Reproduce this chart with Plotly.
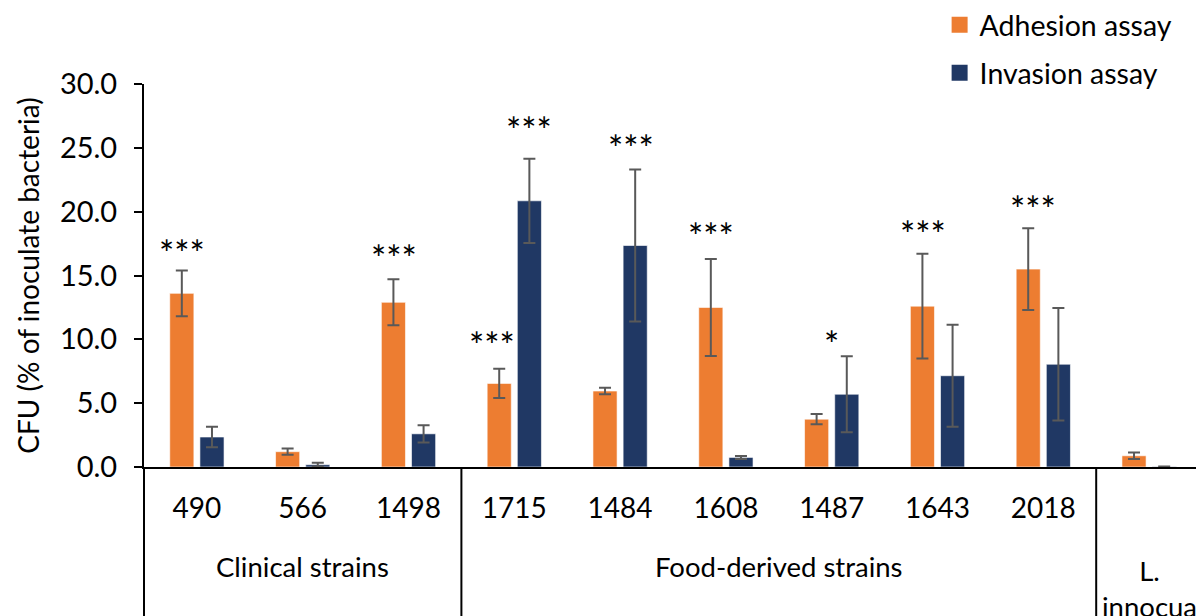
import plotly.graph_objects as go

categories = ["490", "566", "1498", "1715", "1484", "1608", "1487", "1643", "2018", "L. innocua"]
tick_labels = ["490", "566", "1498", "1715", "1484", "1608", "1487", "1643", "2018", ""]
groups = ["Clinical strains", "Food-derived strains", "L.<br>innocua"]
group_sizes = [3, 6, 1]

adhesion = [13.6, 1.2, 12.9, 6.55, 5.95, 12.5, 3.75, 12.6, 15.5, 0.88]
adhesion_err = [1.8, 0.25, 1.8, 1.15, 0.25, 3.8, 0.4, 4.1, 3.2, 0.25]
invasion = [2.35, 0.18, 2.6, 20.85, 17.35, 0.75, 5.7, 7.15, 8.05, 0.03]
invasion_err = [0.8, 0.15, 0.68, 3.3, 5.95, 0.12, 2.97, 4.0, 4.4, 0.0]

sig_cat = ["490", "1498", "1715", "1715", "1484", "1608", "1487", "1643", "2018"]
sig_series = ["adh", "adh", "adh", "inv", "inv", "adh", "mid", "adh", "adh"]
sig_text = ["***", "***", "***", "***", "***", "***", "*", "***", "***"]
sig_y = [17.4, 17.0, 10.2, 27.0, 25.6, 18.7, 10.3, 18.85, 20.85]

ORANGE = "#ED7D31"
BLUE = "#203864"
FONT = "Lato"

fig = go.Figure()
fig.add_trace(go.Bar(
    name="Adhesion assay", x=categories, y=adhesion, marker_color=ORANGE,
    marker_line=dict(color="rgba(255,255,255,0.6)", width=1),
    error_y=dict(type="data", array=adhesion_err, color="#595959", thickness=2, width=6),
    showlegend=False,
))
fig.add_trace(go.Bar(
    name="Invasion assay", x=categories, y=invasion, marker_color=BLUE,
    marker_line=dict(color="rgba(255,255,255,0.6)", width=1),
    error_y=dict(type="data", array=invasion_err, color="#595959", thickness=2, width=6),
    showlegend=False,
))
# legend entries (square swatches like the reference)
for nm, col, grp in [("Adhesion assay", ORANGE, "a"), ("Invasion assay", BLUE, "b")]:
    fig.add_trace(go.Scatter(
        name=nm, x=[None], y=[None], mode="markers",
        marker=dict(symbol="square", size=18, color=col),
        legendgroup=grp, showlegend=True,
    ))

annotations = []
shift = {"adh": -15, "inv": 15, "mid": 0}
extra = {("1715", "adh"): -7, ("1484", "inv"): -4, ("2018", "adh"): 5}
for c, s, t, yv in zip(sig_cat, sig_series, sig_text, sig_y):
    annotations.append(dict(
        x=categories.index(c), y=yv, xref="x", yref="y", text=t, showarrow=False,
        xshift=shift[s] + extra.get((c, s), 0), yshift=-8,
        font=dict(family=FONT, size=36, color="black"),
        xanchor="center", yanchor="middle",
    ))

# group labels and separators
ncat = len(categories)
start = 0
shapes = []
bounds = [0]
for g, n in zip(groups, group_sizes):
    mid = (start + n / 2) / ncat
    ylab = -0.316 if "<br>" in g else -0.2585
    annotations.append(dict(
        x=mid, y=ylab, xref="paper", yref="paper", text=g, showarrow=False,
        font=dict(family=FONT, size=27.5, color="black"),
        xanchor="center", yanchor="middle", align="center",
    ))
    start += n
    bounds.append(start)
for b in bounds:
    shapes.append(dict(
        type="line", xref="paper", yref="paper", x0=b / ncat, x1=b / ncat,
        y0=0, y1=-0.45, line=dict(color="black", width=2),
    ))

fig.update_layout(
    width=1204, height=616,
    margin=dict(l=136, r=10, t=76, b=157, autoexpand=False),
    paper_bgcolor="white", plot_bgcolor="white",
    barmode="group", bargap=0.43, bargroupgap=0.2,
    font=dict(family=FONT, size=28, color="black"),
    showlegend=True,
    legend=dict(
        x=0.752, y=1.22, xanchor="left", yanchor="top",
        font=dict(family=FONT, size=28.5, color="black"),
        tracegroupgap=8, bgcolor="rgba(0,0,0,0)", itemsizing="trace",
    ),
    xaxis=dict(
        type="category",
        tickmode="array", tickvals=categories, ticktext=tick_labels,
        showline=True, linecolor="black", linewidth=2, ticks="",
        tickfont=dict(family=FONT, size=28, color="black"),
        ticklabelstandoff=15, showgrid=False,
    ),
    yaxis=dict(
        range=[0, 30], tickmode="linear", tick0=0, dtick=5, tickformat=".1f",
        showline=True, linecolor="black", linewidth=2,
        ticks="outside", ticklen=8, tickwidth=2, tickcolor="black",
        tickfont=dict(family=FONT, size=29, color="black"),
        ticklabelstandoff=11, showgrid=False, zeroline=False,
        title=dict(text="CFU (% of inoculate bacteria)", standoff=12,
                   font=dict(family=FONT, size=28, color="black")),
    ),
    shapes=shapes, annotations=annotations,
)

fig.write_html("out.html")
